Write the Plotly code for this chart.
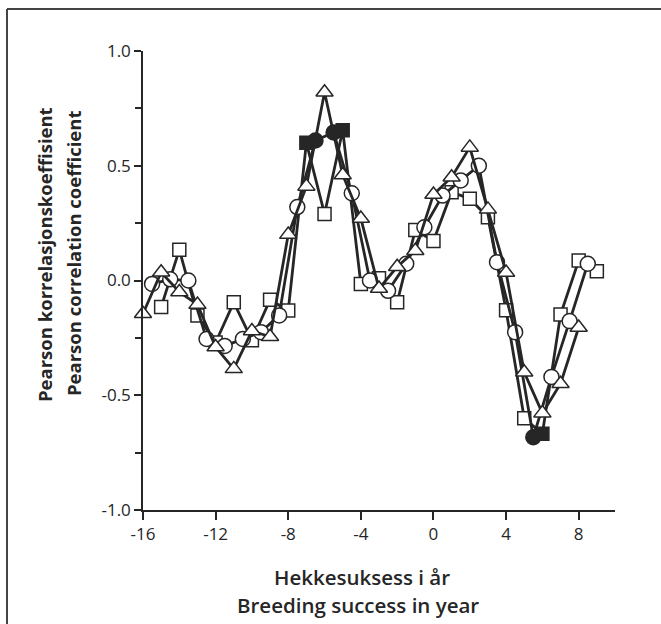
import plotly.graph_objects as go

# Lag (years) and Pearson r for the three series
tri_x = [-16, -15, -14, -13, -12, -11, -10, -9, -8, -7, -6, -5, -4, -3, -2, -1, 0, 1, 2, 3, 4, 5, 6, 7, 8]
tri_y = [-0.145, 0.036, -0.05, -0.105, -0.29, -0.385, -0.22, -0.245, 0.20, 0.41, 0.82, 0.46, 0.27,
         -0.035, 0.06, 0.13, 0.375, 0.45, 0.58, 0.31, 0.035, -0.40, -0.578, -0.45, -0.205]
tri_sig = [False] * 25

circ_x = [-15.5, -14.5, -13.5, -12.5, -11.5, -10.5, -9.5, -8.5, -7.5, -6.5, -5.5, -4.5, -3.5,
          -2.5, -1.5, -0.5, 0.5, 1.5, 2.5, 3.5, 4.5, 5.5, 6.5, 7.5, 8.5]
circ_y = [-0.015, 0.005, 0.0, -0.255, -0.285, -0.255, -0.225, -0.152, 0.32, 0.61, 0.645, 0.38, 0.0,
          -0.045, 0.073, 0.232, 0.37, 0.436, 0.50, 0.08, -0.225, -0.683, -0.42, -0.177, 0.073]
circ_sig = [False] * 9 + [True, True] + [False] * 10 + [True] + [False] * 3

sq_x = [-15, -14, -13, -12, -11, -10, -9, -8, -7, -6, -5, -4, -3, -2, -1, 0, 1, 2, 3, 4, 5, 6, 7, 8, 9]
sq_y = [-0.116, 0.134, -0.152, -0.27, -0.095, -0.26, -0.084, -0.131, 0.60, 0.29, 0.655, -0.015, 0.01,
        -0.095, 0.22, 0.172, 0.385, 0.356, 0.276, -0.13, -0.60, -0.668, -0.148, 0.087, 0.04]
sq_sig = [False] * 8 + [True, False, True] + [False] * 10 + [True] + [False] * 3

x_ticks = [-16, -12, -8, -4, 0, 4, 8]
x_labels = ["-16", "-12", "-8", "-4", "0", "4", "8"]
y_ticks = [-1.0, -0.5, 0.0, 0.5, 1.0]
y_labels = ["-1.0", "-0.5", "0.0", "0.5", "1.0"]

INK = "#262626"
FONT = "Open Sans"


def fills(sig):
    return [INK if s else "white" for s in sig]


fig = go.Figure()
for xs, ys, sig, sym, size in [
    (sq_x, sq_y, sq_sig, "square", 13),
    (circ_x, circ_y, circ_sig, "circle", 15),
    (tri_x, tri_y, tri_sig, "triangle-up", 15),
]:
    fig.add_trace(go.Scatter(
        x=xs, y=ys, mode="lines+markers", cliponaxis=False,
        line=dict(color=INK, width=2.8),
        marker=dict(symbol=sym, size=size, color=fills(sig),
                    line=dict(color=INK, width=1.5)),
        showlegend=False,
    ))

fig.update_layout(
    width=661, height=624, autosize=False,
    margin=dict(l=143, r=46, t=51, b=114),
    paper_bgcolor="white", plot_bgcolor="white",
    font=dict(family=FONT, size=17, color=INK),
)
fig.update_xaxes(
    range=[-16, 10], showgrid=False, zeroline=False,
    showline=True, linecolor=INK, linewidth=1.5,
    ticks="outside", ticklen=8, tickwidth=1.5, tickcolor=INK,
    tickvals=x_ticks, ticktext=x_labels, tickfont=dict(size=17, weight=500),
)
fig.update_yaxes(
    range=[-1, 1], showgrid=False, zeroline=False,
    showline=True, linecolor=INK, linewidth=1.5,
    ticks="outside", ticklen=7, tickwidth=1.5, tickcolor=INK,
    tickvals=y_ticks, ticktext=y_labels, tickfont=dict(size=17, weight=500),
    minor=dict(tickvals=[-0.75, -0.25, 0.25, 0.75], ticks="outside",
               ticklen=6, tickwidth=1.5, tickcolor=INK),
)

# Axis titles (Norwegian / English)
fig.add_annotation(text="Pearson korrelasjonskoeffisient", xref="paper", yref="paper",
                   x=(44 - 143) / 472, y=(510 - 255) / 459, textangle=-90,
                   showarrow=False, xanchor="center", yanchor="middle",
                   font=dict(size=18.5, family=FONT, weight="bold"))
fig.add_annotation(text="Pearson correlation coefficient", xref="paper", yref="paper",
                   x=(73 - 143) / 472, y=(510 - 253) / 459, textangle=-90,
                   showarrow=False, xanchor="center", yanchor="middle",
                   font=dict(size=18.5, family=FONT, weight="bold"))
fig.add_annotation(text="Hekkesuksess i år", xref="paper", yref="paper",
                   x=(362 - 143) / 472, y=(510 - 577) / 459,
                   showarrow=False, xanchor="center", yanchor="middle",
                   font=dict(size=20.5, family=FONT, weight=600))
fig.add_annotation(text="Breeding success in year", xref="paper", yref="paper",
                   x=(358 - 143) / 472, y=(510 - 605) / 459,
                   showarrow=False, xanchor="center", yanchor="middle",
                   font=dict(size=20.5, family=FONT, weight=600))

# Figure frame (left and top edges)
fig.add_shape(type="line", xref="paper", yref="paper",
              x0=(7 - 143) / 472, x1=(7 - 143) / 472, y0=(510 - 624) / 459, y1=(510 - 9) / 459,
              line=dict(color="#444", width=2))
fig.add_shape(type="line", xref="paper", yref="paper",
              x0=(7 - 143) / 472, x1=(661 - 143) / 472, y0=(510 - 9) / 459, y1=(510 - 9) / 459,
              line=dict(color="#444", width=2))

fig.write_html("out.html")
